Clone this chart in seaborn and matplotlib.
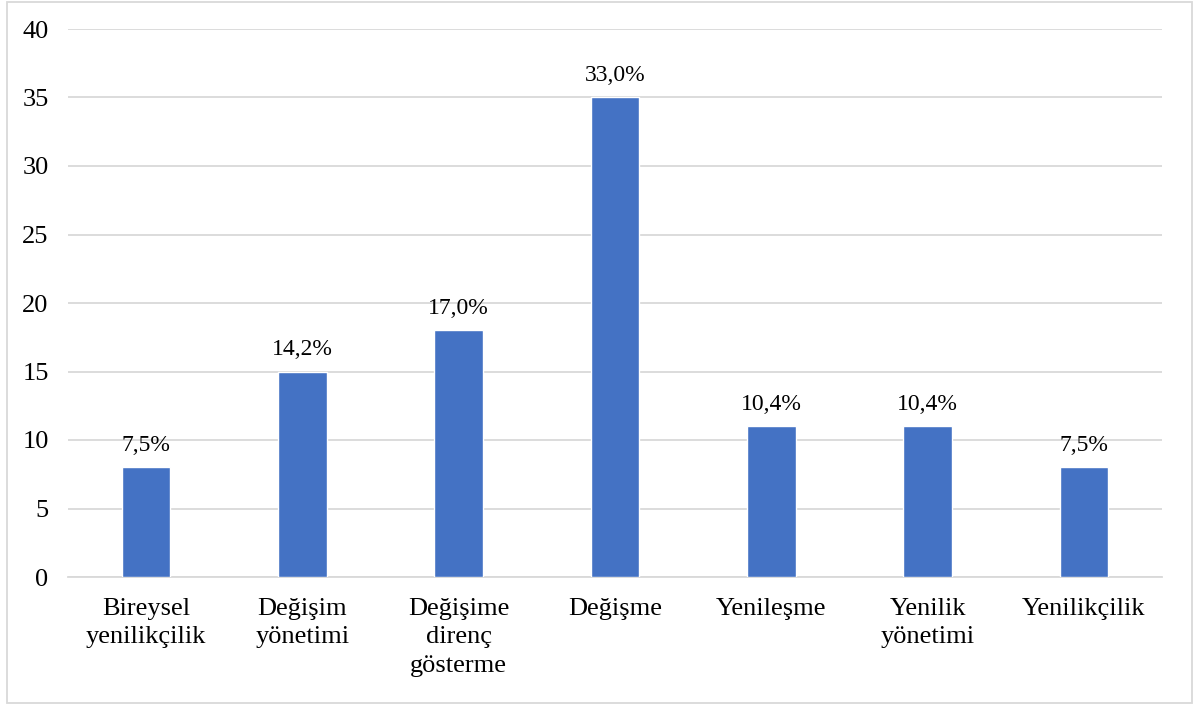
import matplotlib
matplotlib.use("Agg")
import matplotlib.pyplot as plt
import seaborn as sns
import pandas as pd
from matplotlib.patches import Rectangle

categories = ["Bireysel\nyenilikçilik", "Değişim\nyönetimi", "Değişime\ndirenç\ngösterme",
              "Değişme", "Yenileşme", "Yenilik\nyönetimi", "Yenilikçilik"]
counts = [8, 15, 18, 35, 11, 11, 8]
y_ticks = [0, 5, 10, 15, 20, 25, 30, 35, 40]

total = sum(counts)
percent_labels = [f"{c / total * 100:.1f}%".replace(".", ",") for c in counts]

df = pd.DataFrame({"category": categories, "count": counts})

sns.set_theme(style="white")
plt.rcParams["font.family"] = ["Liberation Serif", "DejaVu Serif"]

fig = plt.figure(figsize=(12.03, 7.04), dpi=100)
ax = fig.add_axes([68 / 1203, 1 - 577 / 704, (1162 - 68) / 1203, (577 - 29) / 704])

sns.barplot(data=df, x="category", y="count", color="#4472C4", width=0.31,
            saturation=1, ax=ax, zorder=3)

ax.set_ylim(0, 40)
ax.set_yticks(y_ticks)
ax.yaxis.grid(True, color="#D9D9D9", linewidth=1.3, zorder=0)
ax.set_axisbelow(True)
for s in ["top", "right", "left"]:
    ax.spines[s].set_visible(False)
ax.spines["bottom"].set_color("#D9D9D9")
ax.spines["bottom"].set_linewidth(1.3)
ax.set_xlabel("")
ax.set_ylabel("")
ax.tick_params(axis="y", length=0, pad=14, labelsize=19, colors="black")
ax.tick_params(axis="x", length=0, pad=15, labelsize=19, colors="black")
for lbl in ax.get_xticklabels():
    lbl.set_linespacing(1.38)

for patch, lab in zip(ax.patches, percent_labels):
    ax.annotate(lab, (patch.get_x() + patch.get_width() / 2, patch.get_height()),
                xytext=(0, 8), textcoords="offset points", ha="center", va="bottom",
                fontsize=17, color="black")

# light outer frame around the chart
fig.patches.append(Rectangle((6.5 / 1203, 1.5 / 704), (1192 - 6.5) / 1203, (702 - 1.5) / 704,
                             transform=fig.transFigure, fill=False,
                             edgecolor="#D9D9D9", linewidth=1.3))

fig.savefig("out.png", dpi=100)
